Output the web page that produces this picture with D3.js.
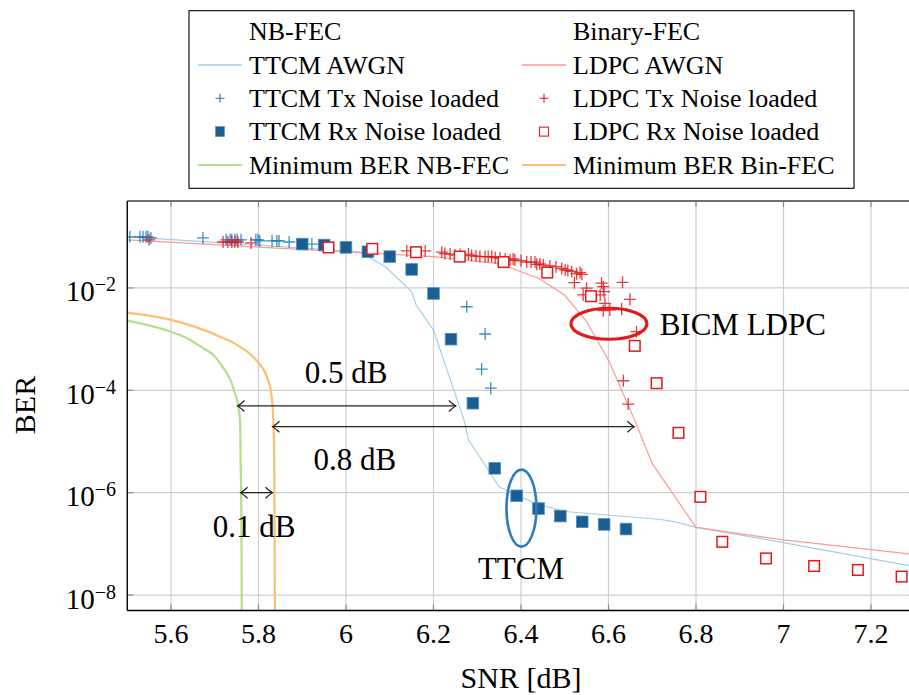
<!DOCTYPE html>
<html>
<head>
<meta charset="utf-8">
<script src="https://cdn.jsdelivr.net/npm/d3@7"></script>
<style>
  html, body { margin: 0; padding: 0; background: #fff; }
</style>
</head>
<body>
<svg id="chart" width="909" height="695"></svg>
<script>
// ---- axis ticks ----
const snrTicks = [5.6, 5.8, 6, 6.2, 6.4, 6.6, 6.8, 7, 7.2];
const berTickExp = [-2, -4, -6, -8];

// ---- TTCM (NB-FEC) over AWGN ----
const ttcmAwgnSnr = [5.5, 5.8, 6.03, 6.09, 6.15, 6.16, 6.2, 6.27, 6.28, 6.31, 6.35, 6.43, 6.5, 6.72, 6.76, 6.8, 6.99, 7.3];
const ttcmAwgnBer = [1.0e-1, 6.9e-2, 5.1e-2, 2.6e-2, 8.5e-3, 4.7e-3, 1.5e-3, 2.6e-5, 1.07e-5, 4.4e-6, 1.3e-6, 6.3e-7, 4.3e-7, 3.0e-7, 2.6e-7, 2.1e-7, 1.1e-7, 3.6e-8];

// ---- LDPC (binary FEC) over AWGN ----
const ldpcAwgnSnr = [5.5, 6.2, 6.35, 6.44, 6.5, 6.55, 6.57, 6.6, 6.66, 6.7, 6.8, 6.99, 7.3];
const ldpcAwgnBer = [8.7e-2, 4.1e-2, 3.0e-2, 1.55e-2, 7.2e-3, 2.2e-3, 1.1e-3, 3.9e-4, 2.6e-5, 3.7e-6, 2.1e-7, 1.23e-7, 6.2e-8];

// ---- TTCM, Tx noise loaded ----
const ttcmTxSnr = [5.506, 5.529, 5.536, 5.543, 5.547, 5.554, 5.673, 5.726, 5.735, 5.739, 5.746, 5.751, 5.760, 5.794, 5.799, 5.803, 5.831, 5.842, 5.847, 5.870, 5.922, 6.276, 6.310, 6.318, 6.331];
const ttcmTxBer = [1.0e-1, 1.0e-1, 1.0e-1, 1.0e-1, 1.0e-1, 9.5e-2, 9.5e-2, 8.7e-2, 8.7e-2, 8.7e-2, 8.7e-2, 8.7e-2, 8.7e-2, 8.7e-2, 8.7e-2, 8.3e-2, 8.3e-2, 8.3e-2, 8.3e-2, 7.9e-2, 7.2e-2, 4.3e-3, 2.6e-4, 1.26e-3, 1.1e-4];

// ---- TTCM, Rx noise loaded ----
const ttcmRxSnr = [5.90, 5.95, 6.00, 6.05, 6.10, 6.15, 6.20, 6.24, 6.29, 6.34, 6.39, 6.44, 6.49, 6.54, 6.59, 6.64];
const ttcmRxBer = [7.2e-2, 6.9e-2, 6.2e-2, 5.1e-2, 4.1e-2, 2.3e-2, 7.8e-3, 1.0e-3, 5.6e-5, 3.0e-6, 8.7e-7, 4.9e-7, 3.5e-7, 2.7e-7, 2.4e-7, 1.95e-7];

// ---- LDPC, Tx noise loaded ----
const ldpcTxSnr = [5.550, 5.719, 5.730, 5.739, 5.746, 5.753, 5.783, 6.139, 6.181, 6.219, 6.226, 6.238, 6.249, 6.261, 6.280, 6.287, 6.297, 6.306, 6.318, 6.325, 6.333, 6.341, 6.352, 6.364, 6.375, 6.382, 6.386, 6.400, 6.413, 6.423, 6.432, 6.436, 6.443, 6.451, 6.466, 6.480, 6.493, 6.501, 6.507, 6.516, 6.527, 6.535, 6.539, 6.522, 6.550, 6.542, 6.584, 6.588, 6.590, 6.581, 6.632, 6.649, 6.592, 6.603, 6.588, 6.630, 6.664, 6.634, 6.645];
const ldpcTxBer = [8.7e-2, 7.9e-2, 7.9e-2, 7.9e-2, 7.9e-2, 7.9e-2, 7.6e-2, 5.3e-2, 5.3e-2, 5.0e-2, 4.7e-2, 4.6e-2, 4.4e-2, 4.5e-2, 4.6e-2, 4.3e-2, 4.2e-2, 4.1e-2, 4.1e-2, 4.1e-2, 4.1e-2, 3.9e-2, 3.85e-2, 3.7e-2, 3.5e-2, 3.7e-2, 3.5e-2, 3.4e-2, 3.2e-2, 3.2e-2, 3.2e-2, 2.9e-2, 2.95e-2, 2.8e-2, 2.7e-2, 2.6e-2, 2.4e-2, 2.25e-2, 2.2e-2, 2.1e-2, 1.9e-2, 2.0e-2, 1.85e-2, 1.27e-2, 9.9e-3, 7.3e-3, 1.24e-2, 1.06e-2, 8.5e-3, 7.3e-3, 1.29e-2, 6.0e-3, 5.0e-3, 3.7e-3, 3.6e-3, 3.9e-3, 1.4e-3, 1.54e-4, 5.4e-5];

// ---- LDPC, Rx noise loaded ----
const ldpcRxSnr = [5.96, 6.06, 6.16, 6.26, 6.36, 6.46, 6.56, 6.66, 6.71, 6.76, 6.81, 6.86, 6.96, 7.07, 7.17, 7.27];
const ldpcRxBer = [6.2e-2, 5.8e-2, 5.0e-2, 4.1e-2, 3.2e-2, 2.0e-2, 6.9e-3, 7.4e-4, 1.38e-4, 1.48e-5, 8.3e-7, 1.1e-7, 5.2e-8, 3.7e-8, 3.1e-8, 2.3e-8];

// ---- Minimum achievable BER ----
const minNbSnr = [5.5, 5.598, 5.636, 5.674, 5.697, 5.712, 5.727, 5.737, 5.746, 5.754, 5.758, 5.759, 5.761, 5.762];
const minNbBer = [2.3e-3, 1.41e-3, 1.05e-3, 6.6e-4, 4.9e-4, 3.4e-4, 2.2e-4, 1.5e-4, 8.7e-5, 4.8e-5, 2.3e-5, 5.0e-6, 2.6e-7, 1e-9];
const minBinSnr = [5.5, 5.598, 5.712, 5.750, 5.788, 5.803, 5.819, 5.830, 5.834, 5.836, 5.838];
const minBinBer = [3.3e-3, 2.4e-3, 1.12e-3, 7.8e-4, 4.5e-4, 3.2e-4, 1.85e-4, 7.6e-5, 2.3e-5, 5.0e-6, 1e-9];

// ---- gap arrows (snr from, snr to, ber) ----
const gapFrom = [5.752, 5.832, 5.759];
const gapTo = [6.251, 6.659, 5.832];
const gapBer = [4.95e-5, 1.95e-5, 1.0e-6];

// ---- annotation labels ----
const noteText = ["0.5 dB", "0.8 dB", "0.1 dB", "BICM LDPC", "TTCM"];
const noteSnr = [6.0, 6.02, 5.79, 6.717, 6.40];
const noteBer = [1.4e-4, 2.8e-6, 1.39e-7, 1.2e-3, 2.06e-8];
const noteAnchor = ["middle", "middle", "middle", "start", "middle"];

// ---- highlight ellipses ----
const ringSnr = [6.601, 6.401];
const ringBer = [2.0e-3, 5.0e-7];

// ---- legend ----
const legendHeads = ["NB-FEC", "Binary-FEC"];
const legendCol1 = ["TTCM AWGN", "TTCM Tx Noise loaded", "TTCM Rx Noise loaded", "Minimum BER NB-FEC"];
const legendCol2 = ["LDPC AWGN", "LDPC Tx Noise loaded", "LDPC Rx Noise loaded", "Minimum BER Bin-FEC"];

const C = {
  ttcmLine: "#a6cee3", ldpcLine: "#fb9a99",
  ttcmMark: "#1f78b4", ttcmSq: "#1b5e91", ldpcMark: "#e31a1c",
  minNb: "#b2df8a", minBin: "#fdbf6f", grid: "#cfcfcf"
};

// pick the first Times-like face that is actually installed
function pickSerif() {
  const cands = ["Liberation Serif", "Times New Roman", "Times", "Tinos", "Nimbus Roman",
    "Nimbus Roman No9 L", "TeX Gyre Termes", "FreeSerif", "Noto Serif", "DejaVu Serif", "Georgia"];
  const ctx = document.createElement("canvas").getContext("2d");
  const probe = "TTCM Rx Noise loaded 0.8 dB";
  const widthOf = f => { ctx.font = "40px " + f; return ctx.measureText(probe).width; };
  const baseMono = widthOf("monospace"), baseSans = widthOf("sans-serif");
  for (const c of cands) {
    if (widthOf(`"${c}", monospace`) !== baseMono || widthOf(`"${c}", sans-serif`) !== baseSans) return `"${c}"`;
  }
  return "serif";
}
const FONT = pickSerif();

const svg = d3.select("#chart").style("font-family", FONT);
const L = 127.25, R = 914.75, T = 201, B = 610.5;

const x = d3.scaleLinear().domain([5.5, 7.3]).range([L, R]);
const y = d3.scaleLog().domain([5e-9, 0.5]).range([B, T]);

svg.append("defs").append("clipPath").attr("id", "plotclip")
  .append("rect").attr("x", L).attr("y", T).attr("width", R - L).attr("height", B - T);

// grid
const grid = svg.append("g");
grid.selectAll("line.vx").data(snrTicks).join("line")
  .attr("x1", d => x(d)).attr("x2", d => x(d)).attr("y1", T).attr("y2", B)
  .attr("stroke", C.grid).attr("stroke-width", 1.2);
grid.selectAll("line.hy").data(berTickExp).join("line")
  .attr("y1", d => y(Math.pow(10, d))).attr("y2", d => y(Math.pow(10, d)))
  .attr("x1", L).attr("x2", R)
  .attr("stroke", C.grid).attr("stroke-width", 1.2);

// inward ticks on all four sides
const tk = svg.append("g").attr("stroke", "#8a8a8a").attr("stroke-width", 1.2);
snrTicks.forEach(d => {
  tk.append("line").attr("x1", x(d)).attr("x2", x(d)).attr("y1", B).attr("y2", B - 6);
  tk.append("line").attr("x1", x(d)).attr("x2", x(d)).attr("y1", T).attr("y2", T + 6);
});
berTickExp.forEach(e => {
  const yy = y(Math.pow(10, e));
  tk.append("line").attr("x1", L).attr("x2", L + 6).attr("y1", yy).attr("y2", yy);
  tk.append("line").attr("x1", R).attr("x2", R - 6).attr("y1", yy).attr("y2", yy);
});

const plot = svg.append("g").attr("clip-path", "url(#plotclip)");

const zip = (xs, ys) => xs.map((v, i) => [v, ys[i]]);
const straight = d3.line().x(d => x(d[0])).y(d => y(d[1]));
const smooth = d3.line().x(d => x(d[0])).y(d => y(d[1])).curve(d3.curveMonotoneX);

plot.append("path").datum(zip(minNbSnr, minNbBer)).attr("d", smooth)
  .attr("fill", "none").attr("stroke", C.minNb).attr("stroke-width", 2.2);
plot.append("path").datum(zip(minBinSnr, minBinBer)).attr("d", smooth)
  .attr("fill", "none").attr("stroke", C.minBin).attr("stroke-width", 2.2);
plot.append("path").datum(zip(ttcmAwgnSnr, ttcmAwgnBer)).attr("d", straight)
  .attr("fill", "none").attr("stroke", C.ttcmLine).attr("stroke-width", 1.2);
plot.append("path").datum(zip(ldpcAwgnSnr, ldpcAwgnBer)).attr("d", straight)
  .attr("fill", "none").attr("stroke", C.ldpcLine).attr("stroke-width", 1.2);

const plus = (g, pts, color, s, w) => {
  g.selectAll(null).data(pts).join("path")
    .attr("d", d => `M${x(d[0]) - s},${y(d[1])}H${x(d[0]) + s}M${x(d[0])},${y(d[1]) - s}V${y(d[1]) + s}`)
    .attr("stroke", color).attr("stroke-width", w).attr("fill", "none").attr("opacity", 0.85);
};

plus(plot, zip(ttcmTxSnr, ttcmTxBer), C.ttcmMark, 6, 1.3);

plot.selectAll(null).data(zip(ttcmRxSnr, ttcmRxBer)).join("rect")
  .attr("x", d => x(d[0]) - 5.8).attr("y", d => y(d[1]) - 5.8)
  .attr("width", 11.6).attr("height", 11.6)
  .attr("fill", C.ttcmSq).attr("stroke", "#4d8fc4").attr("stroke-width", 0.8);

plus(plot, zip(ldpcTxSnr, ldpcTxBer), C.ldpcMark, 6, 1.3);

plot.selectAll(null).data(zip(ldpcRxSnr, ldpcRxBer)).join("rect")
  .attr("x", d => x(d[0]) - 5.3).attr("y", d => y(d[1]) - 5.3)
  .attr("width", 10.6).attr("height", 10.6)
  .attr("fill", "#fff").attr("stroke", C.ldpcMark).attr("stroke-width", 1.5);

// frame
svg.append("line").attr("x1", L).attr("x2", R).attr("y1", T).attr("y2", T).attr("stroke", "#6e6e6e").attr("stroke-width", 2);
svg.append("line").attr("x1", R).attr("x2", R).attr("y1", T).attr("y2", B).attr("stroke", "#000").attr("stroke-width", 1.2);
svg.append("line").attr("x1", L).attr("x2", R).attr("y1", B).attr("y2", B).attr("stroke", "#000").attr("stroke-width", 1.4);
svg.append("line").attr("x1", L).attr("x2", L).attr("y1", T).attr("y2", B).attr("stroke", "#000").attr("stroke-width", 1.4);

// gap arrows with open heads on both ends
const ann = svg.append("g");
const head = (xx, yy, dir) => `M${xx - dir * 7},${yy - 5.5}Q${xx - dir * 2},${yy - 1} ${xx},${yy}Q${xx - dir * 2},${yy + 1} ${xx - dir * 7},${yy + 5.5}`;
gapFrom.forEach((f, i) => {
  const x0 = x(f), x1 = x(gapTo[i]), yy = y(gapBer[i]);
  ann.append("line").attr("x1", x0).attr("x2", x1).attr("y1", yy).attr("y2", yy)
    .attr("stroke", "#222").attr("stroke-width", 1.2);
  ann.append("path").attr("d", head(x0, yy, -1) + head(x1, yy, 1))
    .attr("fill", "none").attr("stroke", "#222").attr("stroke-width", 1.2);
});

// highlight ellipses
ann.append("ellipse").attr("cx", x(ringSnr[0])).attr("cy", y(ringBer[0])).attr("rx", 38).attr("ry", 15.5)
  .attr("fill", "none").attr("stroke", C.ldpcMark).attr("stroke-width", 3.2);
ann.append("ellipse").attr("cx", x(ringSnr[1])).attr("cy", y(ringBer[1])).attr("rx", 15).attr("ry", 38.5)
  .attr("fill", "none").attr("stroke", "#2f7cbb").attr("stroke-width", 2.6);

noteText.forEach((t, i) => {
  ann.append("text").attr("x", x(noteSnr[i])).attr("y", y(noteBer[i]))
    .attr("text-anchor", noteAnchor[i]).attr("font-size", 31).attr("fill", "#000").text(t);
});

// tick labels
const labels = svg.append("g").attr("fill", "#000");
snrTicks.forEach(d => {
  labels.append("text").attr("x", x(d)).attr("y", 643).attr("text-anchor", "middle")
    .attr("font-size", 28).text(d3.format("~g")(d));
});
berTickExp.forEach(e => {
  const t = labels.append("text").attr("x", 116).attr("y", y(Math.pow(10, e)) + 13.5)
    .attr("text-anchor", "end").attr("font-size", 29);
  t.append("tspan").text("10");
  t.append("tspan").attr("font-size", 20).attr("dy", -10).text("\u2212" + Math.abs(e));
});

// axis titles
labels.append("text").attr("x", (L + R) / 2).attr("y", 688).attr("text-anchor", "middle")
  .attr("font-size", 30).text("SNR [dB]");
labels.append("text").attr("transform", `translate(35,405) rotate(-90)`).attr("text-anchor", "middle")
  .attr("font-size", 30).text("BER");

// legend
const lg = svg.append("g");
lg.append("rect").attr("x", 189).attr("y", 10.7).attr("width", 665).attr("height", 177.6)
  .attr("fill", "#fff").attr("stroke", "#000").attr("stroke-width", 1.1);
const rowY = [32, 65, 98.3, 131.6, 165];
const colText = [249, 573];
const colMark = [220, 544];
legendHeads.forEach((h, c) => {
  lg.append("text").attr("x", colText[c]).attr("y", rowY[0] + 7.5).attr("font-size", 26).text(h);
});
[legendCol1, legendCol2].forEach((col, c) => {
  col.forEach((t, r) => {
    lg.append("text").attr("x", colText[c]).attr("y", rowY[r + 1] + 8.5).attr("font-size", 26).text(t);
  });
  const cx = colMark[c];
  lg.append("line").attr("x1", cx - 22).attr("x2", cx + 22).attr("y1", rowY[1]).attr("y2", rowY[1])
    .attr("stroke", c === 0 ? C.ttcmLine : C.ldpcLine).attr("stroke-width", 1.5);
  lg.append("path").attr("d", `M${cx - 4.5},${rowY[2]}H${cx + 4.5}M${cx},${rowY[2] - 4.5}V${rowY[2] + 4.5}`)
    .attr("stroke", c === 0 ? C.ttcmMark : C.ldpcMark).attr("stroke-width", 1.1);
  if (c === 0) {
    lg.append("rect").attr("x", cx - 4.5).attr("y", rowY[3] - 5).attr("width", 9).attr("height", 10)
      .attr("fill", C.ttcmSq).attr("stroke", "#4d8fc4").attr("stroke-width", 0.6);
  } else {
    lg.append("rect").attr("x", cx - 4.5).attr("y", rowY[3] - 4.5).attr("width", 9).attr("height", 9)
      .attr("fill", "#fff").attr("stroke", C.ldpcMark).attr("stroke-width", 1.1);
  }
  lg.append("line").attr("x1", cx - 22).attr("x2", cx + 22).attr("y1", rowY[4]).attr("y2", rowY[4])
    .attr("stroke", c === 0 ? C.minNb : C.minBin).attr("stroke-width", 2.2);
});
</script>
</body>
</html>
